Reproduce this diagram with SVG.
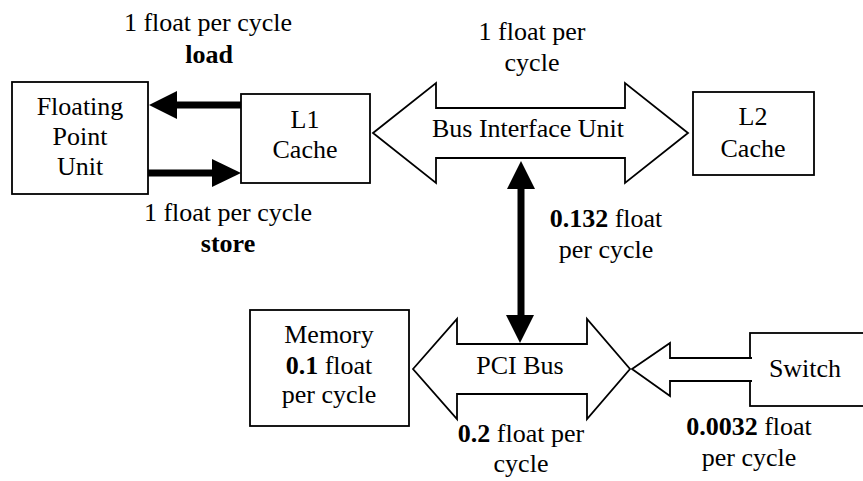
<svg xmlns="http://www.w3.org/2000/svg" width="863" height="481" viewBox="0 0 863 481" font-family="Liberation Serif, Times New Roman, serif">
<style>
text{font-size:26px;fill:#000;text-anchor:middle}
.b{font-weight:bold}
.box{fill:#fff;stroke:#000;stroke-width:1.8}
.fat{fill:#fff;stroke:#000;stroke-width:1.8;stroke-linejoin:miter}
.thick{stroke:#000;stroke-width:7;fill:none}
.head{fill:#000;stroke:none}
</style>
<rect width="863" height="481" fill="#fff"/>
<g id="fpu">
<rect class="box" x="12" y="82" width="136" height="112"/>
<text x="80" y="115" font-family="Liberation Serif">Floating</text>
<text x="80" y="145">Point</text>
<text x="80" y="175">Unit</text>
</g>
<g id="l1">
<rect class="box" x="241" y="94" width="129" height="89"/>
<text x="305" y="128">L1</text>
<text x="305" y="158">Cache</text>
</g>
<g id="l2">
<rect class="box" x="693" y="92" width="121" height="83"/>
<text x="753" y="125">L2</text>
<text x="753" y="157">Cache</text>
</g>
<g id="memory">
<rect class="box" x="250" y="310" width="159" height="116"/>
<text x="329" y="343">Memory</text>
<text x="329" y="374"><tspan class="b">0.1</tspan> float</text>
<text x="329" y="403">per cycle</text>
</g>
<g id="switch">
<rect class="box" x="750" y="333" width="130" height="73"/>
<text x="805" y="377">Switch</text>
</g>
<g id="biu">
<polygon class="fat" points="373,133 436,83 436,108 625,108 625,83 688,133 625,183 625,158 436,158 436,183"/>
<text x="528" y="137">Bus Interface Unit</text>
</g>
<g id="pci">
<polygon class="fat" points="413,369 457,319 457,344 587,344 587,319 630,369 587,419 587,394 457,394 457,419"/>
<text x="520" y="374">PCI Bus</text>
</g>
<g id="connectors">
<line class="thick" x1="241" y1="105" x2="176" y2="105"/>
<polygon class="head" points="149,105 177,91 177,119"/>
<line class="thick" x1="148" y1="173" x2="213" y2="173"/>
<polygon class="head" points="241,173 212,159 212,187"/>
<line class="thick" x1="521" y1="188" x2="521" y2="316"/>
<polygon class="head" points="521,161 507,189 535,189"/>
<polygon class="head" points="520,343 506,315 534,315"/>
<path class="fat" d="M752,358 H670 V343 L632,369 L670,396 V381 H752"/>
</g>
<g id="labels">
<text x="208" y="31">1 float per cycle</text>
<text x="209" y="63" class="b">load</text>
<text x="228" y="221">1 float per cycle</text>
<text x="228" y="252" class="b">store</text>
<text x="532" y="40">1 float per</text>
<text x="532" y="71">cycle</text>
<text x="606" y="227"><tspan class="b">0.132</tspan> float</text>
<text x="606" y="258">per cycle</text>
<text x="521" y="442"><tspan class="b">0.2</tspan> float per</text>
<text x="521" y="472">cycle</text>
<text x="749" y="435"><tspan class="b">0.0032</tspan> float</text>
<text x="749" y="466">per cycle</text>
</g>
</svg>
